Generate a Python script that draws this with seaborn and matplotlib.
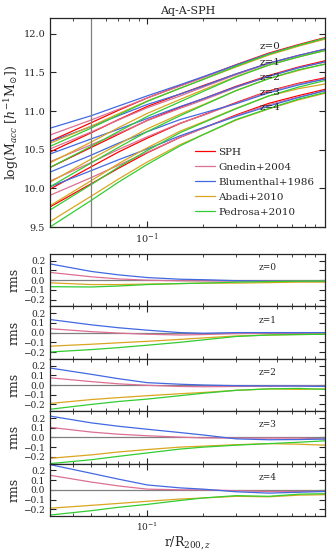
import numpy as np
import pandas as pd
import matplotlib
matplotlib.use('Agg')
import matplotlib.pyplot as plt
import seaborn as sns
from matplotlib.lines import Line2D

# radii (r / R200) where the curves were read
r = [0.03, 0.05, 0.07, 0.1, 0.15, 0.2, 0.3, 0.45, 0.65, 0.9]
redshifts = [0, 1, 2, 3, 4]
models = ['SPH', 'Gnedin+2004', 'Blumenthal+1986', 'Abadi+2010', 'Pedrosa+2010']
colors = ['red', 'palevioletred', 'royalblue', 'goldenrod', 'limegreen']

# log M_acc of the SPH run, one list per redshift
sph_z0 = [10.61, 10.85, 11.01, 11.17, 11.33, 11.44, 11.60, 11.75, 11.86, 11.95]
sph_z1 = [10.47, 10.72, 10.89, 11.06, 11.22, 11.33, 11.48, 11.62, 11.72, 11.80]
sph_z2 = [10.27, 10.53, 10.70, 10.88, 11.05, 11.16, 11.32, 11.46, 11.57, 11.65]
sph_z3 = [9.99, 10.28, 10.47, 10.65, 10.84, 10.95, 11.11, 11.26, 11.36, 11.43]
sph_z4 = [9.76, 10.06, 10.26, 10.46, 10.66, 10.78, 10.95, 11.10, 11.20, 11.28]

# model - SPH residuals (rms panels)
gnedin_z0 = [0.08, 0.035, 0.013, 0.0, -0.007, -0.008, -0.01, -0.01, -0.01, -0.01]
blument_z0 = [0.168, 0.09, 0.055, 0.027, 0.01, 0.005, -0.005, -0.01, -0.013, -0.013]
abadi_z0 = [-0.027, -0.045, -0.045, -0.04, -0.035, -0.03, -0.03, -0.025, -0.02, -0.02]
pedrosa_z0 = [-0.067, -0.07, -0.06, -0.045, -0.035, -0.03, -0.02, -0.015, -0.01, -0.008]

gnedin_z1 = [0.04, 0.01, -0.005, -0.017, -0.025, -0.02, -0.01, -0.005, -0.005, -0.005]
blument_z1 = [0.135, 0.08, 0.05, 0.025, 0.0, -0.007, 0.0, 0.0, 0.0, 0.0]
abadi_z1 = [-0.14, -0.12, -0.105, -0.09, -0.07, -0.055, -0.035, -0.025, -0.02, -0.017]
pedrosa_z1 = [-0.2, -0.175, -0.155, -0.13, -0.1, -0.075, -0.04, -0.025, -0.02, -0.017]

gnedin_z2 = [0.074, 0.035, 0.012, -0.003, -0.015, -0.018, -0.015, -0.012, -0.01, -0.015]
blument_z2 = [0.175, 0.11, 0.065, 0.024, 0.008, 0.0, -0.007, -0.01, -0.01, -0.015]
abadi_z2 = [-0.19, -0.15, -0.13, -0.11, -0.09, -0.077, -0.055, -0.04, -0.045, -0.04]
pedrosa_z2 = [-0.25, -0.2, -0.17, -0.145, -0.11, -0.085, -0.055, -0.04, -0.035, -0.045]

gnedin_z3 = [0.104, 0.055, 0.033, 0.017, 0.003, -0.005, -0.007, -0.007, -0.007, -0.015]
blument_z3 = [0.22, 0.15, 0.115, 0.084, 0.05, 0.025, -0.015, -0.024, -0.022, -0.017]
abadi_z3 = [-0.215, -0.18, -0.15, -0.125, -0.1, -0.09, -0.075, -0.064, -0.07, -0.08]
pedrosa_z3 = [-0.27, -0.23, -0.195, -0.16, -0.12, -0.1, -0.08, -0.064, -0.05, -0.035]

gnedin_z4 = [0.15, 0.08, 0.04, 0.007, 0.0, 0.0, -0.01, -0.017, -0.017, -0.017]
blument_z4 = [0.26, 0.17, 0.11, 0.05, 0.02, 0.007, -0.02, -0.034, -0.025, -0.017]
abadi_z4 = [-0.19, -0.16, -0.14, -0.118, -0.095, -0.084, -0.067, -0.072, -0.055, -0.05]
pedrosa_z4 = [-0.26, -0.215, -0.18, -0.15, -0.11, -0.084, -0.06, -0.067, -0.045, -0.04]

sph = [sph_z0, sph_z1, sph_z2, sph_z3, sph_z4]
resid = [
    [gnedin_z0, blument_z0, abadi_z0, pedrosa_z0],
    [gnedin_z1, blument_z1, abadi_z1, pedrosa_z1],
    [gnedin_z2, blument_z2, abadi_z2, pedrosa_z2],
    [gnedin_z3, blument_z3, abadi_z3, pedrosa_z3],
    [gnedin_z4, blument_z4, abadi_z4, pedrosa_z4],
]

# long tables for seaborn
rows = []
rms_rows = []
for iz, z in enumerate(redshifts):
    for i, rr in enumerate(r):
        rows.append({'r': rr, 'm': sph[iz][i], 'model': models[0], 'z': z})
    for k, name in enumerate(models[1:]):
        for i, rr in enumerate(r):
            d = resid[iz][k][i]
            rows.append({'r': rr, 'm': sph[iz][i] + d, 'model': name, 'z': z})
            rms_rows.append({'r': rr, 'rms': d, 'model': name, 'z': z})
df = pd.DataFrame(rows)
df_rms = pd.DataFrame(rms_rows)
pal = dict(zip(models, colors))

sns.set_style('ticks')
plt.rcParams['font.family'] = ['DejaVu Serif']
plt.rcParams['mathtext.fontset'] = 'dejavuserif'
plt.rcParams['axes.linewidth'] = 0.9

fig = plt.figure(figsize=(3.32, 5.56), dpi=100)

# ---- top panel
ax = fig.add_axes([0.1506, 0.5917, 0.828, 0.3754])
sns.lineplot(data=df, x='r', y='m', hue='model', units='z', estimator=None,
             palette=pal, hue_order=models, lw=0.9, legend=False, ax=ax)
ax.axvline(0.05, color='gray', lw=0.9)
ax.set_xscale('log')
ax.set_xlim(0.03, 0.9)
ax.set_ylim(9.5, 12.2)
ax.set_yticks([9.5, 10.0, 10.5, 11.0, 11.5, 12.0])
ax.set_xlabel('')
ax.set_ylabel(r'log(M$_{acc}$ [$h^{-1}$M$_{\odot}$])', fontsize=9, labelpad=2)
ax.set_title('Aq-A-SPH', fontsize=8, pad=3)
ax.tick_params(which='both', direction='in', top=True, right=True, labelsize=7)
ax.tick_params(which='major', length=4, width=0.8)
ax.tick_params(which='minor', length=2.5, width=0.6)
for z, yy in zip(redshifts, [11.84, 11.63, 11.43, 11.24, 11.04]):
    ax.text(0.4, yy, 'z=%d' % z, fontsize=7.5, va='center', ha='left')
handles = [Line2D([], [], color=c, lw=0.9) for c in colors]
ax.legend(handles, models, loc='lower right', frameon=False, fontsize=7.5,
          handlelength=2.0, handletextpad=0.3, labelspacing=0.55,
          borderaxespad=0.6)

# ---- residual panels
bottom = 0.0719
h = 0.09426
for iz, z in enumerate(redshifts):
    a = fig.add_axes([0.1506, bottom + (4 - iz) * h, 0.828, h])
    a.axhline(0, color='gray', lw=0.9)
    sns.lineplot(data=df_rms[df_rms['z'] == z], x='r', y='rms', hue='model',
                 estimator=None, palette=pal, hue_order=models[1:], lw=0.9,
                 legend=False, ax=a)
    a.set_xscale('log')
    a.set_xlim(0.03, 0.9)
    a.set_ylim(-0.27, 0.27)
    a.set_yticks([-0.2, -0.1, 0.0, 0.1, 0.2])
    a.set_ylabel('rms', fontsize=9, labelpad=2)
    a.tick_params(which='both', direction='in', top=True, right=True, labelsize=6.5)
    a.tick_params(which='major', length=4, width=0.8)
    a.tick_params(which='minor', length=2.5, width=0.6)
    a.text(0.76, 0.74, 'z=%d' % z, transform=a.transAxes, fontsize=6.5,
           va='center', ha='left')
    if iz < 4:
        a.set_xlabel('')
        a.tick_params(labelbottom=False)
    else:
        a.set_xlabel(r'r/R$_{200,z}$', fontsize=9, labelpad=1)

fig.savefig('out.png', dpi=100)
